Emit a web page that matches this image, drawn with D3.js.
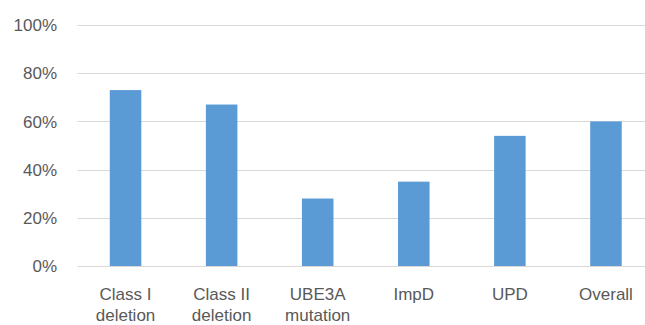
<!DOCTYPE html>
<html>
<head>
<meta charset="utf-8">
<script src="https://cdn.jsdelivr.net/npm/d3@7"></script>
<style>
  body { margin: 0; background: #fff; }
  text { font-family: "Liberation Sans", Arial, sans-serif; fill: #595959; }
</style>
</head>
<body>
<div id="chart"></div>
<script>
// chart data
var categories = ["Class I|deletion", "Class II|deletion", "UBE3A|mutation", "ImpD", "UPD", "Overall"];
var values = [0.73, 0.67, 0.28, 0.35, 0.54, 0.60];
var yTicks = [0, 0.2, 0.4, 0.6, 0.8, 1.0];

var width = 645, height = 325;
var margin = {top: 25, right: -9, bottom: 59, left: 77.5};

var svg = d3.select("#chart")
  .append("svg")
    .attr("width", width)
    .attr("height", height);

var x = d3.scaleBand()
  .domain(categories)
  .range([margin.left, width - margin.right])
  .paddingInner(0.672)
  .paddingOuter(0.336);

var y = d3.scaleLinear()
  .domain([0, 1])
  .range([height - margin.bottom, margin.top]);

// gridlines
svg.append("g")
  .selectAll("line")
  .data(yTicks)
  .join("line")
    .attr("x1", margin.left)
    .attr("x2", width)
    .attr("y1", function(d) { return Math.round(y(d)) + 0.5; })
    .attr("y2", function(d) { return Math.round(y(d)) + 0.5; })
    .attr("stroke", "#d9d9d9")
    .attr("stroke-width", 1);

// y labels
svg.append("g")
  .selectAll("text")
  .data(yTicks)
  .join("text")
    .attr("x", 57)
    .attr("y", function(d) { return y(d); })
    .attr("dy", "0.36em")
    .attr("text-anchor", "end")
    .style("font-size", "17px")
    .text(d3.format(".0%"));

// bars
svg.append("g")
  .selectAll("rect")
  .data(values)
  .join("rect")
    .attr("x", function(d, i) { return x(categories[i]); })
    .attr("y", function(d) { return y(d); })
    .attr("width", x.bandwidth())
    .attr("height", function(d) { return y(0) - y(d); })
    .attr("fill", "#5b9bd5");

// x labels (two lines)
var labels = svg.append("g")
  .selectAll("text")
  .data(categories)
  .join("text")
    .attr("text-anchor", "middle")
    .style("font-size", "17px")
    .attr("transform", function(d) { return "translate(" + (x(d) + x.bandwidth() / 2) + ",299.5)"; });

labels.selectAll("tspan")
  .data(function(d) { return d.split("|"); })
  .join("tspan")
    .attr("x", 0)
    .attr("y", function(d, i) { return i * 21.5; })
    .text(function(d) { return d; });
</script>
</body>
</html>
